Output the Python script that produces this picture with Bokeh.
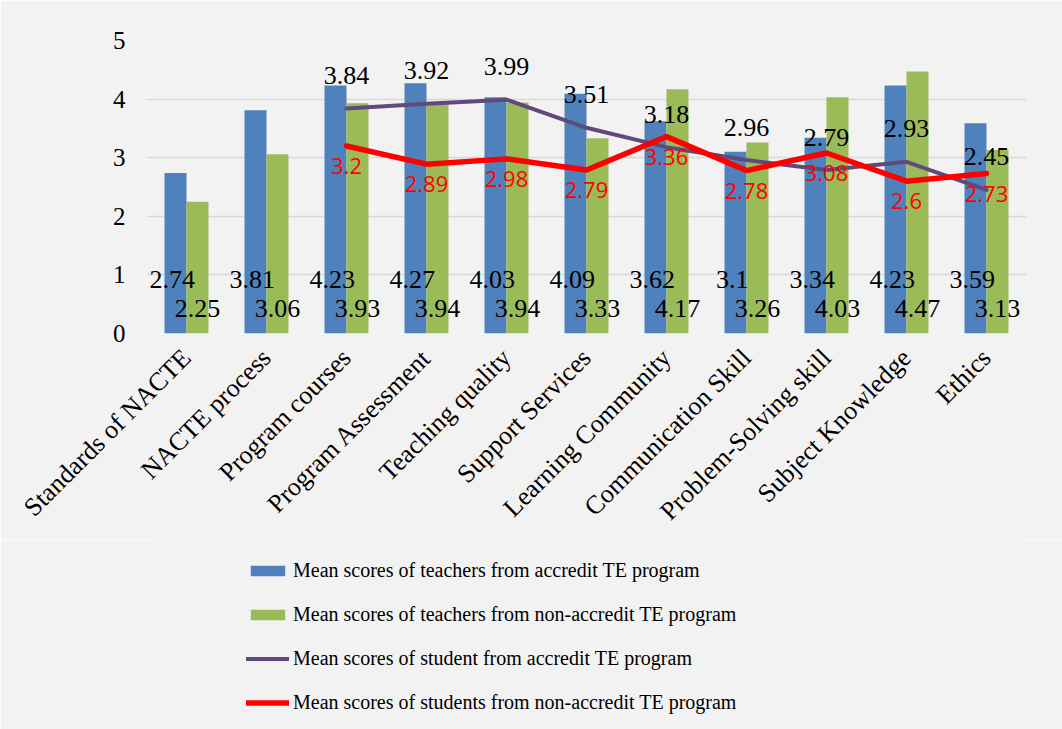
import math
from bokeh.plotting import figure
from bokeh.layouts import column
from bokeh.models import ColumnDataSource, Range1d, FactorRange, Legend, LegendItem
from bokeh.transform import dodge
from bokeh.core.properties import value
from bokeh.embed import file_html
from bokeh.resources import INLINE

categories = ["Standards of NACTE", "NACTE process", "Program courses", "Program Assessment",
              "Teaching quality", "Support Services", "Learning Community", "Communication Skill",
              "Problem-Solving skill", "Subject Knowledge", "Ethics"]
teachers_accredit = [2.74, 3.81, 4.23, 4.27, 4.03, 4.09, 3.62, 3.10, 3.34, 4.23, 3.59]
teachers_non_accredit = [2.25, 3.06, 3.93, 3.94, 3.94, 3.33, 4.17, 3.26, 4.03, 4.47, 3.13]
line_categories = categories[2:]
students_accredit = [3.84, 3.92, 3.99, 3.51, 3.18, 2.96, 2.79, 2.93, 2.45]
students_non_accredit = [3.20, 2.89, 2.98, 2.79, 3.36, 2.78, 3.08, 2.60, 2.73]
y_ticks = [0, 1, 2, 3, 4, 5]
series_names = ["Mean scores of teachers from accredit TE program",
                "Mean scores of teachers from non-accredit TE program",
                "Mean scores of student from accredit TE program",
                "Mean scores of students from non-accredit TE program"]

BLUE = "#4F81BD"
GREEN = "#9BBB59"
PURPLE = "#604A7B"
RED = "#FF0000"
BG = "#F2F2F2"
SERIF = value("Liberation Serif")

bar_src = ColumnDataSource(dict(
    cat=categories, a=teachers_accredit, b=teachers_non_accredit,
    a_lab=[f"{v:g}" for v in teachers_accredit],
    b_lab=[f"{v:g}" for v in teachers_non_accredit],
    zero=[0] * len(categories),
))
line_src = ColumnDataSource(dict(
    cat=line_categories, s=students_accredit, r=students_non_accredit,
    s_lab=[f"{v:g}" for v in students_accredit],
    r_lab=[f"{v:g}" for v in students_non_accredit],
))

xr = FactorRange(*categories, range_padding=0)
p = figure(width=1062, height=540, x_range=xr,
           y_range=Range1d(0, 5), output_backend="svg", toolbar_location=None,
           min_border_left=146, min_border_top=40, min_border_right=36, min_border_bottom=207)
p.background_fill_color = BG
p.border_fill_color = BG
p.outline_line_color = None

bw = 0.275


def draw_series(fig):
    ra = fig.vbar(x=dodge("cat", -bw / 2, range=xr), top="a", width=bw, source=bar_src,
                  fill_color=BLUE, line_color=None)
    rb = fig.vbar(x=dodge("cat", bw / 2, range=xr), top="b", width=bw, source=bar_src,
                  fill_color=GREEN, line_color=None)
    rs = fig.line(x="cat", y="s", source=line_src, line_color=PURPLE, line_width=4,
                  line_join="round", line_cap="round")
    rr = fig.line(x="cat", y="r", source=line_src, line_color=RED, line_width=5.5,
                  line_join="round", line_cap="round")
    return [ra, rb, rs, rr]


draw_series(p)

p.text(x=dodge("cat", -bw / 2 - 0.04, range=xr), y="zero", text="a_lab", source=bar_src,
       text_font=SERIF, text_font_size="26px", text_color="black",
       text_align="center", text_baseline="middle", y_offset=-54)
p.text(x=dodge("cat", bw / 2, range=xr), y="zero", text="b_lab", source=bar_src,
       text_font=SERIF, text_font_size="26px", text_color="black",
       text_align="center", text_baseline="middle", y_offset=-25)
p.text(x="cat", y="s", text="s_lab", source=line_src,
       text_font=SERIF, text_font_size="26px", text_color="black",
       text_align="center", text_baseline="middle", y_offset=-33)
p.text(x="cat", y="r", text="r_lab", source=line_src,
       text_font=value("Open Sans"), text_font_size="22px", text_color=RED,
       text_align="center", text_baseline="middle", y_offset=20)

p.xgrid.grid_line_color = None
p.ygrid.grid_line_color = "#D9D9D9"
p.ygrid.grid_line_width = 1.5
p.yaxis.ticker = y_ticks
for ax in (p.xaxis, p.yaxis):
    ax.axis_line_color = None
    ax.major_tick_line_color = None
    ax.minor_tick_line_color = None
    ax.major_tick_in = 0
    ax.major_tick_out = 0
    ax.major_label_text_font = "Liberation Serif"
    ax.major_label_text_font_size = "25px"
    ax.major_label_text_color = "black"
p.xaxis.major_label_text_font_size = "26px"
p.yaxis.major_label_standoff = 21
p.xaxis.major_label_orientation = math.pi / 4
p.xaxis.major_label_standoff = 20

# Legend panel below the chart (same series, drawn far outside its visible range)
q = figure(width=1062, height=189, x_range=xr, y_range=Range1d(100, 101),
           output_backend="svg", toolbar_location=None, x_axis_type=None, y_axis_type=None,
           min_border_left=0, min_border_right=0, min_border_top=0, min_border_bottom=0)
q.background_fill_color = BG
q.border_fill_color = BG
q.outline_line_color = None
q.grid.grid_line_color = None
legend_renderers = draw_series(q)

legend = Legend(items=[LegendItem(label=n, renderers=[r])
                       for n, r in zip(series_names, legend_renderers)],
                location=(100, 15), orientation="vertical")
legend.glyph_width = 43
legend.glyph_height = 13
legend.label_height = 20
legend.spacing = 21
legend.padding = 0
legend.margin = 0
legend.label_standoff = 4
legend.border_line_color = None
legend.background_fill_alpha = 0
legend.label_text_font = "Liberation Serif"
legend.label_text_font_size = "20px"
legend.label_text_color = "black"
q.add_layout(legend, "center")

layout = column(p, q, spacing=0)
open("out.html", "w").write(file_html(layout, INLINE))
